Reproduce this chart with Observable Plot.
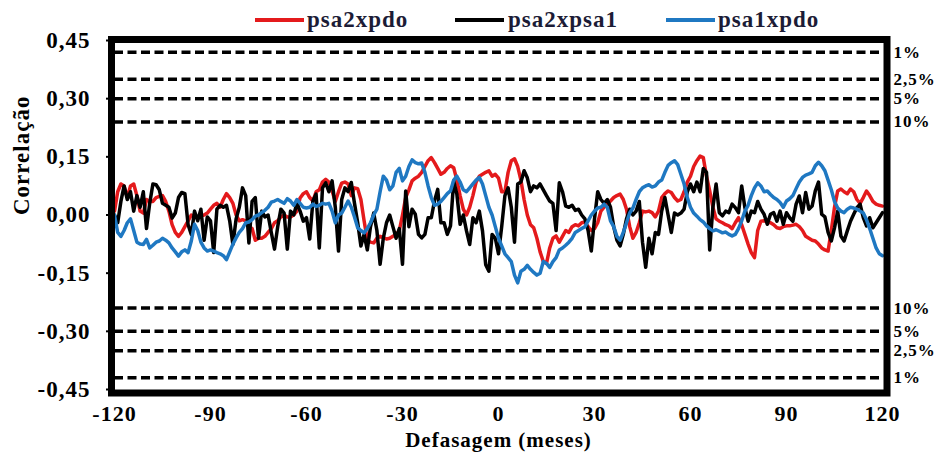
<!DOCTYPE html>
<html>
<head>
<meta charset="utf-8">
<script src="https://cdn.jsdelivr.net/npm/d3@7"></script>
<script src="https://cdn.jsdelivr.net/npm/@observablehq/plot@0.6"></script>
<style>
  html, body { margin: 0; padding: 0; background: #fff; }
  #wrap { position: relative; width: 938px; height: 455px; overflow: hidden; }
  .leg { position: absolute; font-family: "Liberation Serif", "Times New Roman", serif; font-weight: bold; font-size: 23px; letter-spacing: 1px; color: #1c1c36; line-height: 23px; white-space: nowrap; }
  .sw { position: absolute; height: 4px; }
</style>
</head>
<body>
<div id="wrap">
  <div id="chart"></div>
</div>
<script>
// lags (months)
const lags = d3.range(-120, 121);

// correlation series, lag -120 .. 120
const psa2xpdo = [
  0.01, 0.06, 0.08, 0.075, 0.045, 0.075, 0.08, 0.05, 0.01, 0.005,
  0.04, 0.035, 0.035, 0.045, 0.048, 0.05, 0.035, 0.01, -0.025, -0.045,
  -0.055, -0.045, -0.03, -0.015, 0.0, -0.005, -0.005, -0.002, 0.0, 0.005,
  0.015, 0.025, 0.03, 0.02, 0.04, 0.055, 0.045, 0.03, 0.0, -0.015,
  -0.012, -0.015, -0.03, -0.035, -0.065, -0.06, -0.06, -0.055, -0.045, -0.035,
  -0.02, -0.015, -0.005, 0.0, -0.005, -0.005, 0.0, 0.01, 0.044, 0.055,
  0.06, 0.045, 0.036, 0.06, 0.065, 0.085, 0.092, 0.085, 0.062, 0.035,
  0.06, 0.082, 0.085, 0.08, 0.05, 0.07, 0.068, 0.04, -0.015, -0.065,
  -0.07, -0.072, -0.06, -0.055, -0.058, -0.062, -0.06, -0.055, -0.05, -0.04,
  0.0, 0.045, 0.065, 0.088, 0.095, 0.1, 0.11, 0.125, 0.14, 0.148,
  0.135, 0.12, 0.105, 0.11, 0.12, 0.127, 0.122, 0.09, 0.05, 0.015,
  0.0, 0.02, 0.05, 0.085, 0.1, 0.105, 0.11, 0.114, 0.1, 0.105,
  0.095, 0.06, 0.06, 0.11, 0.14, 0.145, 0.125, 0.09, 0.04, 0.0,
  -0.025, -0.033, -0.06, -0.095, -0.12, -0.125, -0.085, -0.06, -0.054, -0.07,
  -0.055, -0.04, -0.045, -0.03, -0.025, -0.028, -0.02, -0.018, -0.03, -0.04,
  -0.035, -0.02, 0.01, 0.02, 0.028, 0.036, 0.045, 0.05, 0.054, 0.04,
  0.015, -0.03, -0.06, -0.045, -0.02, 0.01, 0.008, 0.01, 0.006, -0.005,
  0.01, 0.045, 0.055, 0.062, 0.058, 0.045, 0.036, 0.04, 0.06, 0.085,
  0.1, 0.125, 0.14, 0.152, 0.148, 0.1, 0.062, 0.02, -0.01, -0.016,
  -0.02, -0.025, -0.028, -0.035, -0.02, -0.007, -0.025, -0.05, -0.075, -0.097,
  -0.11, -0.04, -0.016, -0.015, -0.018, -0.02, -0.025, -0.033, -0.035, -0.03,
  -0.028, -0.028, -0.026, -0.024, -0.03, -0.04, -0.055, -0.06, -0.065, -0.067,
  -0.075, -0.085, -0.09, -0.093, -0.04, 0.02, 0.062, 0.067, 0.06, 0.055,
  0.067, 0.06, 0.04, 0.03, 0.045, 0.062, 0.05, 0.035, 0.028, 0.025,
  0.023
];

const psa2xpsa1 = [
  0.0, -0.02, 0.035, 0.075, 0.04, 0.06, 0.01, 0.05, 0.02, 0.06,
  -0.035, 0.03, 0.08, 0.078, 0.065, 0.03, 0.025, 0.02, -0.008, 0.005,
  0.045, 0.058, 0.055, -0.025, -0.05, 0.01, -0.015, 0.015, -0.065, -0.005,
  -0.015, -0.097, 0.015, 0.025, 0.02, 0.025, -0.015, -0.076, -0.01, 0.02,
  0.07, 0.05, -0.072, 0.035, 0.045, -0.06, 0.01, -0.005, 0.0, -0.045,
  -0.088, -0.03, 0.015, 0.005, -0.088, 0.01, 0.0, 0.03, 0.01, -0.016,
  -0.007, -0.062, 0.036, 0.054, -0.085, 0.07, 0.083, 0.06, 0.088, 0.02,
  -0.093, 0.04, 0.07, 0.06, 0.084, 0.03, -0.02, -0.08, -0.05, -0.09,
  -0.03, 0.005, -0.04, -0.127, -0.06, -0.02, 0.0, -0.03, -0.06, -0.035,
  -0.127, 0.062, -0.03, 0.015, 0.002, -0.05, -0.059, -0.05, -0.007, -0.007,
  0.036, 0.066, -0.02, -0.02, -0.05, -0.028, 0.088, 0.053, -0.024, 0.0,
  -0.041, -0.076, -0.007, -0.02, 0.01, -0.041, -0.128, -0.145, -0.05, -0.06,
  -0.1, -0.03, 0.05, 0.07, 0.02, -0.07, 0.08, 0.085, 0.114, 0.096,
  0.06, 0.075, 0.07, 0.08, 0.065, 0.05, 0.036, 0.03, -0.04, 0.083,
  0.06, 0.023, 0.02, 0.025, 0.012, 0.015, 0.0, -0.01, -0.04, -0.093,
  -0.01, 0.06, 0.04, 0.03, 0.04, 0.02, -0.03, -0.065, -0.08, -0.05,
  -0.01, 0.015, 0.0, 0.01, 0.035, -0.07, -0.135, -0.06, -0.1, -0.045,
  -0.05, 0.01, 0.045, 0.0, -0.045, 0.005, 0.0, 0.005, 0.015, 0.06,
  0.08, 0.06, 0.085, 0.06, 0.12, 0.11, -0.09, 0.02, 0.08, 0.006,
  -0.002, 0.01, 0.006, 0.028, 0.019, 0.006, 0.075, 0.019, -0.016, 0.01,
  0.006, 0.035, 0.015, 0.002, -0.024, 0.002, 0.006, -0.016, 0.01, -0.024,
  0.006, -0.007, -0.016, 0.028, 0.049, 0.006, 0.058, 0.015, 0.023, 0.062,
  0.085, 0.002, -0.005, -0.045, -0.067, -0.033, 0.01, -0.054, -0.067, -0.041,
  -0.016, 0.002, 0.019, 0.028, -0.007, -0.028, -0.007, -0.033, -0.02, -0.007,
  0.006
];

const psa1xpdo = [
  0.0, -0.045, -0.055, -0.04, -0.02, -0.01, -0.04, -0.07, -0.075, -0.076,
  -0.063, -0.085, -0.078, -0.07, -0.067, -0.06, -0.065, -0.072, -0.085, -0.095,
  -0.106, -0.095, -0.09, -0.097, -0.067, -0.024, -0.04, -0.07, -0.085, -0.093,
  -0.09, -0.093, -0.097, -0.1, -0.105, -0.115, -0.095, -0.075, -0.059, -0.045,
  -0.035, -0.02, -0.018, -0.012, -0.003, 0.0, 0.006, 0.012, 0.02, 0.033,
  0.036, 0.04, 0.035, 0.03, 0.042, 0.036, 0.025, 0.04, 0.03, 0.02,
  0.018, 0.02, 0.028, 0.022, 0.025, 0.03, 0.028, 0.03, 0.01, -0.02,
  0.0, 0.005, 0.02, 0.036, 0.02, -0.005, -0.033, -0.04, -0.046, -0.035,
  -0.02, 0.0, 0.015, 0.06, 0.1, 0.09, 0.065, 0.075, 0.11, 0.12,
  0.088, 0.1, 0.125, 0.142, 0.135, 0.132, 0.134, 0.11, 0.075, 0.045,
  0.025, 0.028, 0.035, 0.045, 0.055, 0.062, 0.09, 0.1, 0.085, 0.065,
  0.06, 0.07, 0.08, 0.09, 0.097, 0.08, 0.05, 0.02, 0.0, -0.03,
  -0.06, -0.08, -0.1, -0.11, -0.12, -0.155, -0.175, -0.145, -0.14, -0.13,
  -0.14, -0.148, -0.155, -0.15, -0.12, -0.125, -0.135, -0.12, -0.11, -0.09,
  -0.085, -0.078, -0.07, -0.06, -0.045, -0.04, -0.035, -0.03, -0.015, 0.0,
  0.01, 0.018, 0.02, 0.028, 0.02, -0.015, -0.03, -0.055, -0.065, -0.045,
  -0.02, 0.005, 0.018, 0.04, 0.06, 0.07, 0.075, 0.078, 0.072, 0.075,
  0.085, 0.09, 0.11, 0.128, 0.135, 0.14, 0.13, 0.105, 0.08, 0.045,
  0.02, 0.005, -0.003, -0.012, -0.018, -0.028, -0.035, -0.041, -0.038, -0.042,
  -0.046, -0.044, -0.05, -0.054, -0.05, -0.035, -0.015, 0.01, 0.025, 0.05,
  0.07, 0.083, 0.075, 0.06, 0.062, 0.053, 0.045, 0.04, 0.032, 0.02,
  0.036, 0.042, 0.05, 0.068, 0.085, 0.097, 0.103, 0.106, 0.11, 0.127,
  0.136, 0.127, 0.114, 0.09, 0.065, 0.035, 0.018, 0.01, 0.006, 0.015,
  0.02, 0.018, 0.015, 0.01, 0.005, -0.012, -0.035, -0.06, -0.085, -0.1,
  -0.105
];

// significance thresholds
const sigValues = [0.42, 0.35, 0.30, 0.24, -0.24, -0.30, -0.35, -0.42];
const sigLabels = ["1%", "2,5%", "5%", "10%", "10%", "5%", "2,5%", "1%"];

// ticks
const xTicks = [-120, -90, -60, -30, 0, 30, 60, 90, 120];
const yTicks = [-0.45, -0.30, -0.15, 0, 0.15, 0.30, 0.45];

const seriesNames = ["psa2xpdo", "psa2xpsa1", "psa1xpdo"];
const seriesColors = ["#e41a1c", "#000000", "#1f78c2"];

const fmtY = v => (v < 0 ? "-" : "") + Math.abs(v).toFixed(2).replace(".", ",");
const fmtX = v => (v < 0 ? "-" : "") + Math.abs(v);

const serif = "'Liberation Serif', 'Times New Roman', serif";

const lineOf = (vals, color) => Plot.line(vals, {
  x: (d, i) => lags[i], y: d => d, stroke: color, strokeWidth: 3.5, strokeLinejoin: "round"
});

const chart = Plot.plot({
  width: 938,
  height: 455,
  marginTop: 40,
  marginBottom: 66,
  marginLeft: 114,
  marginRight: 56,
  style: { fontFamily: serif, fontWeight: "bold", fontSize: "23px", letterSpacing: "1px", color: "#000", background: "#fff", overflow: "visible" },
  x: { domain: [-120, 120] },
  y: { domain: [-0.45, 0.45] },
  marks: [
    Plot.ruleY(sigValues, { stroke: "#000", strokeWidth: 3.5, strokeDasharray: "9,4.5" }),
    lineOf(psa2xpdo, seriesColors[0]),
    lineOf(psa2xpsa1, seriesColors[1]),
    lineOf(psa1xpdo, seriesColors[2]),
    Plot.frame({ stroke: "#000", strokeWidth: 7, insetTop: -1, insetBottom: -3.5, insetLeft: -3, insetRight: -4.5 }),
    Plot.axisY({ ticks: yTicks, tickFormat: fmtY, tickSize: 8, tickPadding: 16, strokeWidth: 2, label: null, fontSize: 23 }),
    Plot.axisX({ ticks: xTicks, tickFormat: fmtX, tickSize: 0, tickPadding: 16, label: null, fontSize: 22 }),
    Plot.text(sigValues, { x: 120, y: d => d, text: (d, i) => sigLabels[i], textAnchor: "start", dx: 11, fontSize: 17 }),
    Plot.text(["Correlação"], { frameAnchor: "left", rotate: -90, dx: -93, fontSize: 23 }),
    Plot.text(["Defasagem (meses)"], { frameAnchor: "bottom", dy: 57, fontSize: 21 })
  ]
});
document.getElementById("chart").appendChild(chart);

// legend (HTML, above the plot frame)
const wrap = document.getElementById("wrap");
const legPos = [
  { sw: 255, tx: 307 },
  { sw: 455, tx: 508 },
  { sw: 666, tx: 718 }
];
seriesNames.forEach((name, i) => {
  const s = document.createElement("div");
  s.className = "sw";
  s.style.left = legPos[i].sw + "px";
  s.style.top = "18px";
  s.style.width = "49px";
  s.style.background = seriesColors[i];
  wrap.appendChild(s);
  const t = document.createElement("div");
  t.className = "leg";
  t.style.left = legPos[i].tx + "px";
  t.style.top = "8px";
  t.textContent = name;
  wrap.appendChild(t);
});
</script>
</body>
</html>
